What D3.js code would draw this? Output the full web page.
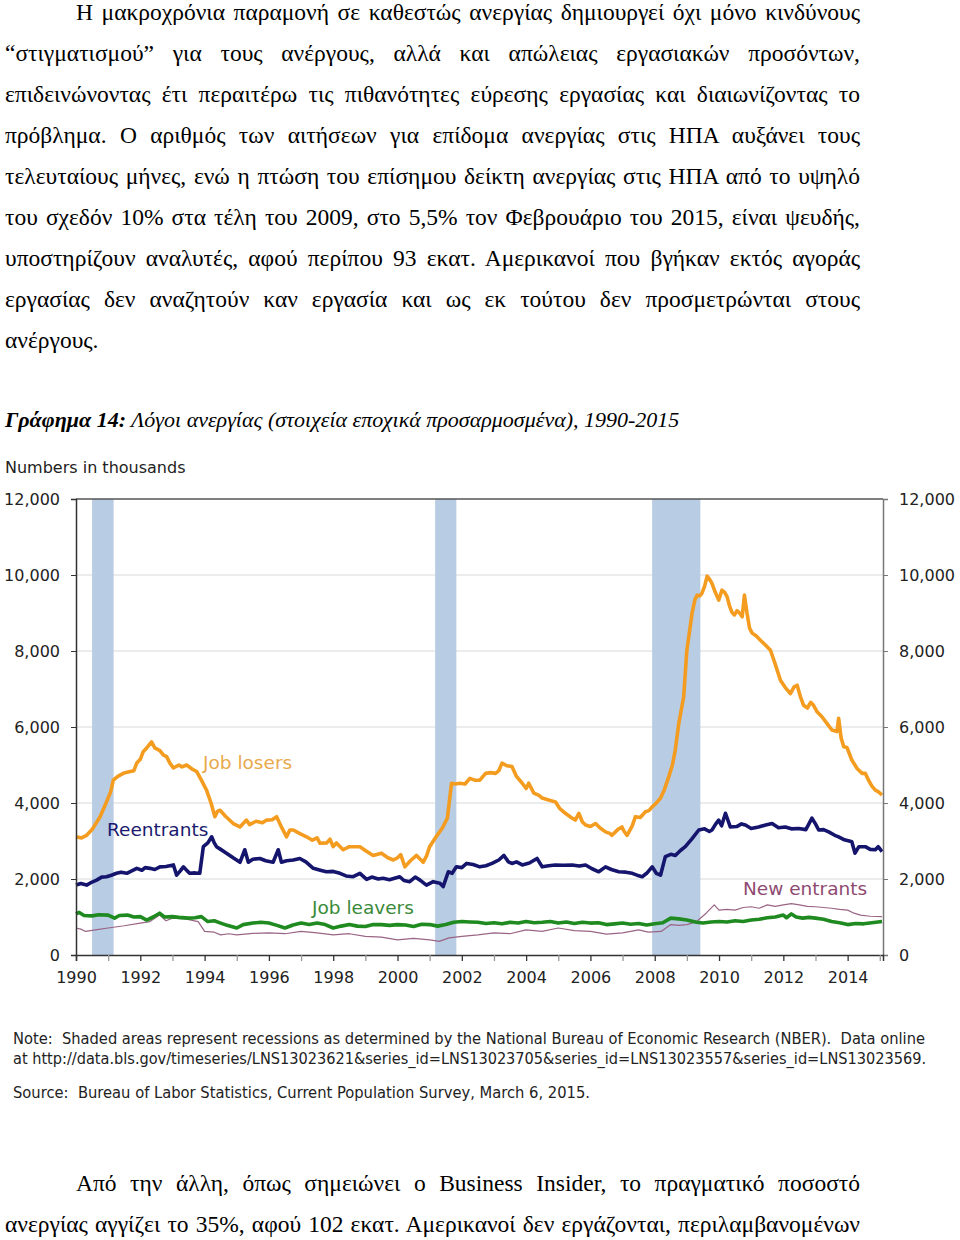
<!DOCTYPE html>
<html>
<head>
<meta charset="utf-8">
<script src="https://cdn.jsdelivr.net/npm/d3@7.9.0/dist/d3.min.js"></script>
<style>
  body { margin: 0; background: #fff; }
  svg text { white-space: pre; }
</style>
</head>
<body>
<svg id="page" width="960" height="1240"></svg>
<script>
// ---- data (thousands) ----
const recessions = [[1990.5, 1991.17], [2001.17, 2001.83], [2007.92, 2009.42]];
const yTicks = [0, 2000, 4000, 6000, 8000, 10000, 12000];
const years = d3.range(1990, 2016);

const jobLosers = [
  [1990.0,3110],[1990.17,3080],[1990.33,3150],[1990.5,3300],[1990.75,3640],[1990.95,4030],[1991.08,4300],
  [1991.16,4600],[1991.3,4700],[1991.47,4780],[1991.65,4820],[1991.8,4850],[1991.89,5050],[1992.0,5150],
  [1992.09,5350],[1992.2,5450],[1992.35,5610],[1992.45,5450],[1992.61,5380],[1992.72,5260],[1992.82,5220],
  [1992.92,5050],[1993.03,4920],[1993.2,5000],[1993.3,4950],[1993.44,5000],[1993.6,4900],[1993.75,4830],
  [1993.9,4600],[1994.06,4340],[1994.2,4000],[1994.32,3640],[1994.4,3780],[1994.48,3810],[1994.65,3650],
  [1994.89,3460],[1995.1,3370],[1995.3,3550],[1995.4,3430],[1995.6,3520],[1995.8,3480],[1995.93,3550],
  [1996.1,3560],[1996.24,3640],[1996.4,3350],[1996.55,3110],[1996.65,3290],[1996.76,3290],[1996.95,3200],
  [1997.17,3110],[1997.35,3020],[1997.5,3080],[1997.59,2940],[1997.8,2950],[1997.9,3050],[1998.0,2850],
  [1998.1,2950],[1998.31,2770],[1998.5,2850],[1998.83,2850],[1999.0,2750],[1999.24,2620],[1999.5,2680],
  [1999.7,2560],[1999.87,2500],[2000.0,2560],[2000.1,2640],[2000.23,2320],[2000.4,2480],[2000.59,2620],
  [2000.8,2440],[2000.9,2600],[2001.0,2850],[2001.2,3110],[2001.4,3350],[2001.55,3600],[2001.68,4520],
  [2001.8,4500],[2001.94,4520],[2002.1,4500],[2002.25,4650],[2002.4,4600],[2002.56,4600],[2002.74,4780],
  [2002.9,4800],[2003.05,4780],[2003.15,4850],[2003.25,5050],[2003.4,4980],[2003.56,4960],[2003.7,4700],
  [2003.88,4520],[2004.0,4380],[2004.08,4520],[2004.24,4260],[2004.4,4200],[2004.5,4130],[2004.7,4080],
  [2004.91,4030],[2005.05,3850],[2005.22,3730],[2005.4,3620],[2005.53,3550],[2005.64,3730],[2005.75,3500],
  [2005.85,3420],[2006.0,3380],[2006.16,3460],[2006.3,3340],[2006.47,3240],[2006.6,3200],[2006.67,3150],
  [2006.85,3300],[2006.98,3370],[2007.05,3250],[2007.14,3150],[2007.3,3400],[2007.4,3640],[2007.55,3620],
  [2007.71,3770],[2007.82,3800],[2007.92,3900],[2008.05,4000],[2008.18,4130],[2008.3,4350],[2008.44,4700],
  [2008.55,5000],[2008.64,5400],[2008.75,6100],[2008.9,6790],[2009.0,8020],[2009.08,8500],[2009.16,8990],
  [2009.25,9350],[2009.32,9470],[2009.4,9450],[2009.47,9520],[2009.55,9700],[2009.63,9970],[2009.7,9900],
  [2009.78,9780],[2009.88,9550],[2009.99,9340],[2010.09,9600],[2010.17,9550],[2010.25,9430],[2010.32,9200],
  [2010.4,9020],[2010.48,8950],[2010.56,9060],[2010.64,9000],[2010.72,8900],[2010.79,9470],[2010.87,9000],
  [2010.95,8600],[2011.03,8470],[2011.15,8400],[2011.28,8290],[2011.45,8150],[2011.6,8020],[2011.75,7650],
  [2011.91,7230],[2012.05,7050],[2012.22,6880],[2012.33,7050],[2012.43,7100],[2012.53,6800],[2012.63,6570],
  [2012.75,6500],[2012.85,6650],[2012.94,6570],[2013.05,6400],[2013.2,6270],[2013.35,6100],[2013.51,5920],
  [2013.67,5880],[2013.72,6230],[2013.8,5700],[2013.88,5480],[2013.98,5460],[2014.13,5130],[2014.3,4900],
  [2014.45,4780],[2014.55,4780],[2014.65,4600],[2014.75,4450],[2014.86,4340],[2014.95,4300],[2015.07,4210]
];

const reentrants = [
  [1990.0,1840],[1990.15,1880],[1990.33,1840],[1990.5,1920],[1990.64,1970],[1990.8,2050],[1990.95,2060],
  [1991.1,2100],[1991.26,2150],[1991.4,2180],[1991.58,2150],[1991.75,2220],[1991.89,2280],[1992.05,2230],
  [1992.15,2300],[1992.3,2280],[1992.45,2250],[1992.61,2320],[1992.8,2330],[1993.03,2370],[1993.13,2100],
  [1993.25,2220],[1993.34,2320],[1993.45,2220],[1993.54,2150],[1993.7,2160],[1993.85,2150],[1993.96,2850],
  [1994.1,2950],[1994.22,3110],[1994.3,2950],[1994.37,2850],[1994.5,2780],[1994.68,2680],[1994.9,2550],
  [1995.1,2440],[1995.25,2770],[1995.36,2440],[1995.5,2520],[1995.72,2540],[1995.9,2480],[1996.13,2440],
  [1996.29,2770],[1996.39,2440],[1996.55,2480],[1996.76,2500],[1996.96,2540],[1997.15,2450],[1997.38,2280],
  [1997.6,2230],[1997.79,2190],[1998.0,2200],[1998.21,2150],[1998.4,2080],[1998.62,2060],[1998.83,2150],
  [1999.04,1990],[1999.2,2050],[1999.4,2000],[1999.55,2020],[1999.75,1980],[2000.07,2060],[2000.2,1960],
  [2000.38,1930],[2000.55,2050],[2000.7,1970],[2000.9,1840],[2001.11,1930],[2001.32,1890],[2001.42,1800],
  [2001.58,2190],[2001.7,2150],[2001.83,2320],[2002.0,2300],[2002.15,2410],[2002.35,2380],[2002.56,2320],
  [2002.75,2350],[2002.94,2410],[2003.15,2500],[2003.31,2620],[2003.45,2450],[2003.56,2410],[2003.7,2450],
  [2003.88,2370],[2004.1,2420],[2004.34,2540],[2004.5,2320],[2004.7,2350],[2004.91,2370],[2005.15,2360],
  [2005.43,2370],[2005.65,2340],[2005.85,2370],[2006.05,2270],[2006.26,2190],[2006.47,2320],[2006.65,2250],
  [2006.88,2190],[2007.1,2180],[2007.3,2150],[2007.45,2100],[2007.61,2060],[2007.75,2150],[2007.92,2320],
  [2008.05,2150],[2008.18,2100],[2008.33,2590],[2008.5,2650],[2008.64,2620],[2008.8,2750],[2008.95,2850],
  [2009.15,3050],[2009.37,3290],[2009.55,3320],[2009.7,3250],[2009.78,3290],[2009.9,3450],[2009.99,3550],
  [2010.08,3400],[2010.2,3730],[2010.35,3370],[2010.55,3380],[2010.7,3450],[2010.82,3420],[2011.0,3330],
  [2011.23,3370],[2011.45,3420],[2011.65,3460],[2011.85,3350],[2012.06,3370],[2012.25,3320],[2012.48,3330],
  [2012.7,3300],[2012.89,3600],[2013.0,3450],[2013.1,3290],[2013.25,3300],[2013.41,3240],[2013.6,3150],
  [2013.72,3110],[2013.9,3030],[2014.05,3000],[2014.13,2980],[2014.23,2680],[2014.35,2850],[2014.55,2850],
  [2014.7,2780],[2014.86,2770],[2014.95,2850],[2015.07,2720]
];

const jobLeavers = [
  [1990.0,1080],[1990.1,1120],[1990.25,1040],[1990.5,1030],[1990.7,1060],[1991.0,1050],[1991.2,970],
  [1991.35,1040],[1991.6,1050],[1991.8,1000],[1992.0,1010],[1992.2,920],[1992.4,1000],[1992.6,1100],
  [1992.75,1000],[1993.0,1010],[1993.2,990],[1993.5,970],[1993.7,980],[1993.9,1010],[1994.1,880],
  [1994.3,900],[1994.5,840],[1994.7,780],[1995.0,710],[1995.2,800],[1995.5,840],[1995.75,860],
  [1996.0,840],[1996.25,780],[1996.5,710],[1996.75,790],[1997.0,840],[1997.25,800],[1997.5,840],
  [1997.75,800],[1998.0,710],[1998.25,760],[1998.5,800],[1998.75,760],[1999.0,750],[1999.25,800],
  [1999.5,800],[1999.75,780],[2000.0,800],[2000.25,790],[2000.5,750],[2000.75,810],[2001.0,800],
  [2001.25,760],[2001.5,800],[2001.75,860],[2002.0,880],[2002.25,870],[2002.5,860],[2002.75,830],
  [2003.0,850],[2003.25,820],[2003.5,860],[2003.75,840],[2004.0,880],[2004.25,850],[2004.5,860],
  [2004.75,880],[2005.0,840],[2005.25,870],[2005.5,830],[2005.75,860],[2006.0,840],[2006.25,850],
  [2006.5,800],[2006.75,820],[2007.0,840],[2007.25,810],[2007.5,830],[2007.75,790],[2008.0,820],
  [2008.25,850],[2008.5,970],[2008.75,950],[2009.0,920],[2009.3,860],[2009.5,840],[2009.75,870],
  [2010.0,880],[2010.25,870],[2010.5,900],[2010.75,880],[2011.0,920],[2011.25,940],[2011.5,980],
  [2011.75,1000],[2012.0,1050],[2012.1,980],[2012.25,1080],[2012.4,1000],[2012.6,970],[2012.8,990],
  [2013.0,970],[2013.25,940],[2013.5,880],[2013.75,850],[2014.0,800],[2014.25,830],[2014.5,820],
  [2014.75,850],[2015.07,880]
];

const newEntrants = [
  [1990.0,710],[1990.15,680],[1990.3,620],[1990.6,660],[1991.0,710],[1991.5,770],[1992.0,840],
  [1992.3,880],[1992.6,1050],[1992.8,900],[1993.0,970],[1993.4,950],[1993.8,880],[1994.0,620],
  [1994.3,600],[1994.5,530],[1994.75,560],[1995.0,530],[1995.5,570],[1996.0,580],[1996.5,560],
  [1997.0,620],[1997.5,580],[1998.0,530],[1998.5,560],[1999.0,490],[1999.5,470],[2000.0,400],
  [2000.5,440],[2001.0,400],[2001.3,360],[2001.6,450],[2002.0,490],[2002.5,530],[2003.0,580],
  [2003.5,560],[2004.0,660],[2004.5,620],[2005.0,710],[2005.5,640],[2006.0,620],[2006.5,550],
  [2007.0,580],[2007.5,660],[2007.8,600],[2008.2,620],[2008.5,800],[2008.75,780],[2009.0,800],
  [2009.3,880],[2009.6,1100],[2009.85,1320],[2010.0,1180],[2010.25,1200],[2010.5,1180],[2010.75,1250],
  [2011.0,1270],[2011.25,1230],[2011.5,1320],[2011.75,1280],[2012.0,1320],[2012.25,1350],[2012.5,1320],
  [2012.75,1280],[2013.0,1270],[2013.25,1250],[2013.5,1230],[2013.75,1200],[2014.0,1180],[2014.2,1100],
  [2014.4,1050],[2014.7,1020],[2015.07,1010]
];

// ---- page text ----
const paraLines = [
  "Η μακροχρόνια παραμονή σε καθεστώς ανεργίας δημιουργεί όχι μόνο κινδύνους",
  "“στιγματισμού” για τους ανέργους, αλλά και απώλειας εργασιακών προσόντων,",
  "επιδεινώνοντας έτι περαιτέρω τις πιθανότητες εύρεσης εργασίας και διαιωνίζοντας το",
  "πρόβλημα. Ο αριθμός των αιτήσεων για επίδομα ανεργίας στις ΗΠΑ αυξάνει τους",
  "τελευταίους μήνες, ενώ η πτώση του επίσημου δείκτη ανεργίας στις ΗΠΑ από το υψηλό",
  "του σχεδόν 10% στα τέλη του 2009, στο 5,5% τον Φεβρουάριο του 2015, είναι ψευδής,",
  "υποστηρίζουν αναλυτές, αφού περίπου 93 εκατ. Αμερικανοί που βγήκαν εκτός αγοράς",
  "εργασίας δεν αναζητούν καν εργασία και ως εκ τούτου δεν προσμετρώνται στους",
  "ανέργους."
];
const tailLines = [
  "Από την άλλη, όπως σημειώνει ο Business Insider, το πραγματικό ποσοστό",
  "ανεργίας αγγίζει το 35%, αφού 102 εκατ. Αμερικανοί δεν εργάζονται, περιλαμβανομένων"
];
const noteLines = [
  "Note:  Shaded areas represent recessions as determined by the National Bureau of Economic Research (NBER).  Data online",
  "at http://data.bls.gov/timeseries/LNS13023621&series_id=LNS13023705&series_id=LNS13023557&series_id=LNS13023569."
];
const sourceLine = "Source:  Bureau of Labor Statistics, Current Population Survey, March 6, 2015.";

const svg = d3.select('#page');
const serif = "'Liberation Serif', 'Times New Roman', serif";
const sans = "'DejaVu Sans', Verdana, sans-serif";

// justified body text: stretch word gaps so the line ends at x = 860
function bodyText(lines, top, lastJustified) {
  lines.forEach((t, i) => {
    const indent = i === 0 ? 76 : 5;
    const el = svg.append('text')
      .attr('x', indent).attr('y', top + i * 41)
      .attr('font-family', serif).attr('font-size', 23.5)
      .attr('fill', '#000').text(t);
    if (i < lines.length - 1 || lastJustified) {
      const target = 860 - indent;
      const w = el.node().getComputedTextLength();
      const gaps = t.split(' ').length - 1;
      if (w < target) {
        el.attr('word-spacing', (target - w) / gaps);
      } else {
        el.attr('textLength', target).attr('lengthAdjust', 'spacingAndGlyphs');
      }
    }
  });
}
bodyText(paraLines, 20, false);
bodyText(tailLines, 1191, true);

// caption
const cap = svg.append('text').attr('x', 5).attr('y', 427)
  .attr('font-family', serif).attr('font-size', 22).attr('font-style', 'italic');
cap.append('tspan').attr('font-weight', 'bold').text('Γράφημα 14:');
cap.append('tspan').text(' Λόγοι ανεργίας (στοιχεία εποχικά προσαρμοσμένα), 1990-2015');

// ---- chart ----
const x = d3.scaleLinear().domain([1990, 2015.1]).range([76, 883]);
const y = d3.scaleLinear().domain([0, 12000]).range([955, 499]);

svg.append('text').attr('x', 5).attr('y', 473)
  .attr('font-family', sans).attr('font-size', 16).attr('fill', '#222')
  .text('Numbers in thousands');

// gridlines
svg.append('g').selectAll('line')
  .data(yTicks.filter(d => d > 0 && d < 12000))
  .join('line')
  .attr('x1', x(1990)).attr('x2', x(2015.1))
  .attr('y1', d => y(d)).attr('y2', d => y(d))
  .attr('stroke', '#d6d9de').attr('stroke-width', 1.2);

// recession bands
svg.append('g').selectAll('rect')
  .data(recessions)
  .join('rect')
  .attr('x', d => x(d[0])).attr('width', d => x(d[1]) - x(d[0]))
  .attr('y', y(12000)).attr('height', y(0) - y(12000))
  .attr('fill', '#b8cce4');

// top frame
svg.append('line')
  .attr('x1', x(1990)).attr('x2', x(2015.1))
  .attr('y1', y(12000)).attr('y2', y(12000))
  .attr('stroke', '#555').attr('stroke-width', 1.3);

const line = d3.line().x(d => x(d[0])).y(d => y(d[1]));
const series = [
  { data: newEntrants, color: '#9a6585', width: 1.2 },
  { data: jobLeavers, color: '#1f8a1f', width: 3.6 },
  { data: reentrants, color: '#15156e', width: 3.6 },
  { data: jobLosers, color: '#f39c1f', width: 3.6 }
];
series.forEach(s => {
  svg.append('path')
    .attr('d', line(s.data))
    .attr('fill', 'none')
    .attr('stroke', s.color)
    .attr('stroke-width', s.width)
    .attr('stroke-linejoin', 'round');
});

// series labels
const labels = [
  { text: 'Job losers', x: 203, y: 769, color: '#e8a94c' },
  { text: 'Reentrants', x: 107, y: 836, color: '#1a1a6e' },
  { text: 'Job leavers', x: 312, y: 914, color: '#3a8a3a' },
  { text: 'New entrants', x: 743, y: 895, color: '#8e4a70' }
];
svg.append('g').selectAll('text')
  .data(labels)
  .join('text')
  .attr('x', d => d.x).attr('y', d => d.y)
  .attr('font-family', sans).attr('font-size', 18.5)
  .attr('fill', d => d.color)
  .text(d => d.text);

// axes
const fmt = d3.format(',');
const left = svg.append('g').attr('transform', `translate(${x(1990)},0)`)
  .call(d3.axisLeft(y).tickValues(yTicks).tickFormat(fmt).tickSize(5).tickPadding(11));
const right = svg.append('g').attr('transform', `translate(${x(2015.1)},0)`)
  .call(d3.axisRight(y).tickValues(yTicks).tickFormat(fmt).tickSize(5).tickPadding(11));
const bottom = svg.append('g').attr('transform', `translate(0,${y(0)})`)
  .call(d3.axisBottom(x).tickValues(years).tickFormat(d => d % 2 === 0 ? d : '').tickSize(6).tickPadding(11));

[left, right, bottom].forEach(g => {
  g.selectAll('text').attr('font-family', sans).attr('font-size', 16).attr('fill', '#222');
});
left.select('.domain').attr('stroke', '#333').attr('stroke-width', 1.5);
left.selectAll('.tick line').attr('stroke', '#333');
right.select('.domain').attr('stroke', '#777').attr('stroke-width', 1.5);
right.selectAll('.tick line').attr('stroke', '#777');
bottom.select('.domain').attr('stroke', '#333').attr('stroke-width', 1.5);
bottom.selectAll('.tick line')
  .attr('stroke', d => d % 2 === 0 ? '#333' : '#999')
  .attr('stroke-width', 1.3);

// note and source
const narrow = "'Liberation Sans Narrow', 'Arial Narrow', 'DejaVu Sans Condensed', sans-serif";
noteLines.forEach((t, i) => {
  svg.append('text').attr('x', 13).attr('y', 1044 + i * 20)
    .attr('font-family', narrow).attr('font-size', 16).attr('fill', '#222')
    .attr('textLength', i === 0 ? 912 : 913).attr('lengthAdjust', 'spacingAndGlyphs')
    .text(t);
});
svg.append('text').attr('x', 13).attr('y', 1098)
  .attr('font-family', narrow).attr('font-size', 16).attr('fill', '#222')
  .attr('textLength', 577).attr('lengthAdjust', 'spacingAndGlyphs')
  .text(sourceLine);
</script>
</body>
</html>
